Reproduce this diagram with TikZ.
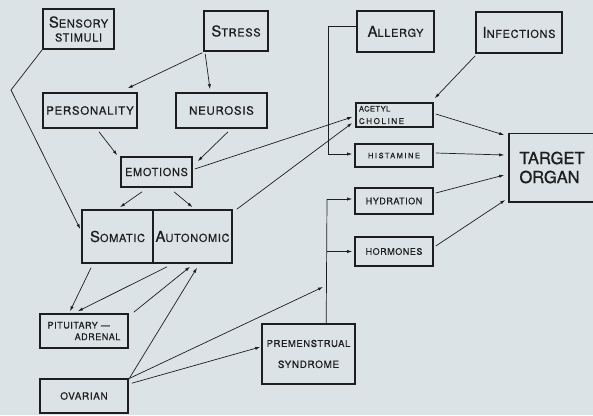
\documentclass[tikz,border=0pt]{standalone}
\usepackage{fontspec}
\setmainfont{TeX Gyre Heros}[LetterSpace=6,FakeBold=0.6]
\newfontfamily\widefont{TeX Gyre Heros}[LetterSpace=20,FakeBold=0.6]
\newfontfamily\plainfont{TeX Gyre Heros}[FakeBold=1]
\usetikzlibrary{calc,arrows.meta}
\definecolor{bg}{RGB}{219,227,230}
\definecolor{ink}{RGB}{30,30,30}
\newcommand\fsz[2]{{\fontsize{#1}{#1}\selectfont #2}}
\newcommand\bigfirst[2]{\fsz{15}{#1}\fsz{11}{#2}}
\tikzset{
  box/.style={draw=ink, line width=1.6pt, inner sep=0pt, text=ink},
  conn/.style={draw=ink, line width=0.7pt},
  arr/.style={conn, -{Latex[length=5pt,width=3.2pt]}}
}
\begin{document}
\begin{tikzpicture}[x=1pt,y=-1pt]
\useasboundingbox (0,0) rectangle (593,415);
\fill[bg] (0,0) rectangle (593,415);

% left column
\node[box, minimum width=71, minimum height=40, align=center, font=\fontsize{11}{14}\selectfont] (sens) at (78.5,29) {\bigfirst{S}{ENSORY}\\STIMULI};
\node[box, minimum width=64, minimum height=40] (stress) at (236,31) {\bigfirst{S}{TRESS}};
\node[box, minimum width=94, minimum height=35, font=\fontsize{11.5}{14}\selectfont] (pers) at (90,110.5) {PERSONALITY};
\node[box, minimum width=91, minimum height=35, font=\fontsize{11.5}{14}\selectfont] (neur) at (221.5,110.5) {NEUROSIS};
\node[box, minimum width=71, minimum height=30, font=\fontsize{11}{14}\selectfont] (emo) at (156.5,172) {EMOTIONS};
\node[box, minimum width=71, minimum height=53] (soma) at (117.5,236.5) {\bigfirst{S}{OMATIC}};
\node[box, minimum width=79, minimum height=53] (auto) at (192.5,236.5) {\bigfirst{A}{UTONOMIC}};
\node[box, minimum width=88, minimum height=34, align=left, font=\fontsize{9}{11.5}\selectfont] (pit) at (84,331) {PITUITARY —\\\hspace*{27pt}ADRENAL};
\node[box, minimum width=88, minimum height=34, font=\fontsize{10}{12}\selectfont] (ova) at (84,396) {OVARIAN};
\node[box, minimum width=93, minimum height=60, align=center, font=\fontsize{9.5}{21}\selectfont] (pms) at (308.5,354) {PREMENSTRUAL\\\fsz{10}{SYNDROME}};

% right column
\node[box, minimum width=77, minimum height=41] (allergy) at (395.5,31.5) {\bigfirst{A}{LLERGY}};
\node[box, minimum width=86, minimum height=41] (inf) at (519,32.5) {\bigfirst{I}{NFECTIONS}};
\node[box, minimum width=77, minimum height=24, text width=71, align=left, font=\fontsize{7.5}{12.5}\selectfont] (ach) at (394.5,115) {ACETYL\\{\widefont\fontsize{8}{12.5}\selectfont CHOLINE}};
\node[box, minimum width=78, minimum height=23, font=\widefont\fontsize{7.5}{9}\selectfont] (his) at (394,155.5) {HISTAMINE};
\node[box, minimum width=78, minimum height=26, font=\fontsize{9}{11}\selectfont] (hyd) at (394,201) {HYDRATION};
\node[box, minimum width=78, minimum height=29, font=\fontsize{9}{11}\selectfont] (hor) at (394,251.5) {HORMONES};
\node[box, minimum width=86, minimum height=68.4, align=left, font=\plainfont\fontsize{16.5}{19}\selectfont] (target) at (552,167.5) {TARGET\\ORGAN};

% connectors
\coordinate (sbend) at (11,90);
\draw[arr] (sens.south west) -- (sbend) -- ($(soma.west)+(-1,-7.5)$);
\draw[arr] ($(stress.south west)+(-1,1)$) -- ($(pers.north east)+(-10,-4)$);
\draw[arr] ($(stress.south west)+(2,2)$) -- ($(neur.north)+(-11.5,-3)$);
\draw[arr] ($(pers.south)+(9,3)$) -- ($(emo.north west)+(-3,-1)$);
\draw[arr] ($(neur.south)+(6.5,3)$) -- ($(emo.north east)+(5,5)$);
\draw[arr] ($(emo.east)+(2,-3)$) -- ($(ach.west)+(-3,2)$);
\draw[arr] ($(auto.north east)+(4,0)$) -- ($(ach.west)+(-3,8)$);
\draw[arr] ($(emo.south)+(-14.5,4)$) -- ($(soma.north)+(2.5,-2)$);
\draw[arr] ($(emo.south)+(17.5,4)$) -- ($(auto.north)+(0,-2)$);
\draw[arr] ($(soma.south)+(-26.5,4)$) -- ($(pit.north)+(-14,-2)$);
\draw[arr] ($(auto.south)+(-25.5,3)$) -- ($(pit.north)+(-6,-2)$);
\draw[arr] ($(pit.north east)+(5,-1)$) -- ($(auto.south)+(-2.5,3)$);
\draw[arr] ($(ova.north east)+(0,1)$) -- ($(auto.south)+(4.5,4)$);
\draw[arr] ($(ova.north east)+(3,5)$) -- ($(pms.west)+(-1,-7)$);

\coordinate (vb) at ($(pms.north west)+(65,0)$);
\coordinate (vt) at (327,199);
\coordinate (vh) at (327,251.5);
\coordinate (vo) at (323,287);
\draw[conn] (vb) -- (vt);
\draw[arr] (vt) -- ($(hyd.west)+(-2,-2)$);
\draw[arr] (vh) -- ($(hor.west)+(-2,0)$);
\draw[arr] ($(ova.north east)+(1,0)$) -- (vo);

\coordinate (al1) at (328,26);
\coordinate (al2) at (328,154);
\draw[arr] ($(allergy.west)+(0,-5.5)$) -- (al1) -- (al2) -- ($(his.west)+(-2,-1.5)$);

\draw[arr] ($(inf.south west)+(0,2)$) -- ($(ach.north east)+(1,-4)$);
\draw[arr] ($(ach.east)+(2,-1)$) -- ($(target.west)+(-4,-32.5)$);
\draw[arr] ($(his.east)+(2,-2.5)$) -- ($(target.west)+(-4,-12.5)$);
\draw[arr] ($(hyd.east)+(2,-8)$) -- ($(target.west)+(-4,7.5)$);
\draw[arr] ($(hor.east)+(2,-5.5)$) -- ($(target.west)+(-3,32.5)$);
\end{tikzpicture}
\end{document}
